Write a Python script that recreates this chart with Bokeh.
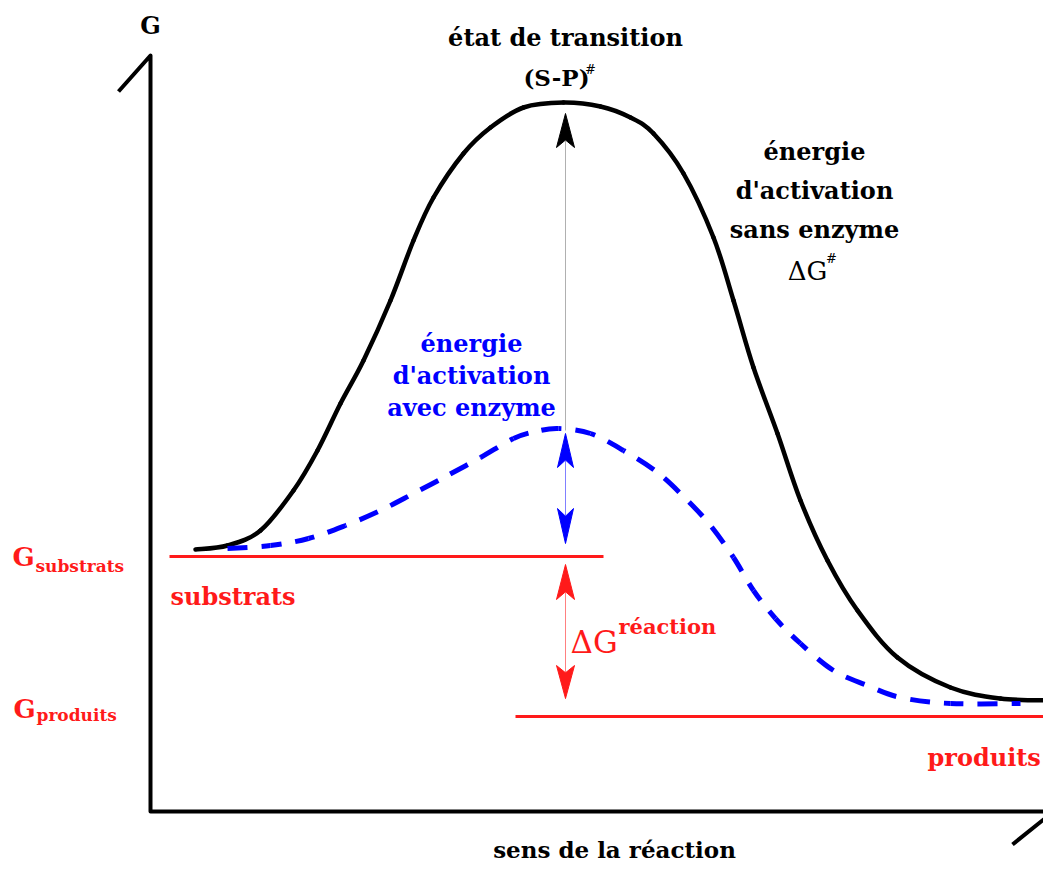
from bokeh.plotting import figure
from bokeh.models import Range1d, ColumnDataSource
from bokeh.core.properties import value
from bokeh.embed import file_html
from bokeh.resources import INLINE

# ---------------- data (reaction coordinate x, free energy G) ----------------
# curve without enzyme
sans_x = [45, 77, 110, 143, 167, 190, 213, 240, 263, 283, 313, 340, 373, 413, 450,
          480, 503, 533, 563, 583, 603, 627, 650, 677, 707, 747, 800, 850, 901]
sans_g = [262, 266, 281, 321, 361, 408, 451, 511, 571, 614, 658, 684, 704, 709, 705,
          694, 678, 638, 574, 511, 444, 378, 311, 251, 201, 154, 124, 113, 111]
# curve with enzyme
avec_x = [77, 120, 158, 195, 230, 263, 297, 330, 363, 385, 408, 440, 473, 507, 537,
          560, 583, 603, 625, 650, 683, 717, 750, 800, 870]
avec_g = [263, 266, 273, 286, 301, 318, 336, 354, 373, 380, 383, 378, 361, 339, 311,
          286, 254, 221, 193, 168, 141, 126, 114, 108, 108]

# energy levels
G_substrats = 255
G_produits = 95
G_TS = 698
G_enzyme = 381
substrats_x = [19, 453]
produits_x = [365, 901]
x_TS = 415

# axes (hook / top / origin / right end / hook)
axis_x = [-32, 0, 0, 903, 862]
axis_y = [720, 756, 0, 0, -33]

FONT = "DejaVu Serif"
RED = "#ff1a1a"
BLUE = "#0000ff"
DASH = (20, 14)
TY = 9  # text baseline correction

p = figure(width=1043, height=865, x_range=Range1d(-150, 893), y_range=Range1d(-54, 811),
           output_backend="svg", toolbar_location=None, min_border=0,
           x_axis_location=None, y_axis_location=None)
p.grid.visible = False
p.outline_line_color = None
p.background_fill_color = "white"
p.border_fill_color = "white"


def smooth_segments(xs, ys, dash_period=None):
    """Catmull-Rom knots -> cubic Bezier segments (control points derived from neighbours)."""
    n = len(xs)
    d = dict(x0=[], y0=[], x1=[], y1=[], cx0=[], cy0=[], cx1=[], cy1=[], off=[])
    total = 0.0
    for i in range(n - 1):
        a = max(i - 1, 0)
        b = min(i + 2, n - 1)
        x0, y0, x1, y1 = xs[i], ys[i], xs[i + 1], ys[i + 1]
        cx0 = x0 + (x1 - xs[a]) / 6.0
        cy0 = y0 + (y1 - ys[a]) / 6.0
        cx1 = x1 - (xs[b] - x0) / 6.0
        cy1 = y1 - (ys[b] - y0) / 6.0
        for k, v in zip(["x0", "y0", "x1", "y1", "cx0", "cy0", "cx1", "cy1"],
                        [x0, y0, x1, y1, cx0, cy0, cx1, cy1]):
            d[k].append(v)
        d["off"].append(int(round(total % dash_period)) if dash_period else 0)
        # approximate segment length
        px, py = x0, y0
        for s in range(1, 21):
            t = s / 20.0
            mt = 1 - t
            qx = mt**3 * x0 + 3 * mt**2 * t * cx0 + 3 * mt * t**2 * cx1 + t**3 * x1
            qy = mt**3 * y0 + 3 * mt**2 * t * cy0 + 3 * mt * t**2 * cy1 + t**3 * y1
            total += ((qx - px) ** 2 + (qy - py) ** 2) ** 0.5
            px, py = qx, qy
    return ColumnDataSource(d)


# axes
p.line(axis_x, axis_y, line_color="black", line_width=4, line_join="round")

# level lines
p.line(substrats_x, [G_substrats, G_substrats], line_color=RED, line_width=3)
p.line(produits_x, [G_produits, G_produits], line_color=RED, line_width=3)

# vertical guide lines
p.line([x_TS, x_TS], [G_enzyme, G_TS - 20], line_color="#b0b0b0", line_width=1)
p.line([x_TS, x_TS], [G_substrats + 15, G_enzyme - 10], line_color="#8080ff", line_width=1)
p.line([x_TS, x_TS], [G_produits + 18, G_substrats - 10], line_color="#ff8080", line_width=1)

# curves
src_sans = smooth_segments(sans_x, sans_g)
p.bezier("x0", "y0", "x1", "y1", "cx0", "cy0", "cx1", "cy1", source=src_sans,
         line_color="black", line_width=4.5, line_cap="round")
src_avec = smooth_segments(avec_x, avec_g, dash_period=sum(DASH))
p.bezier("x0", "y0", "x1", "y1", "cx0", "cy0", "cx1", "cy1", source=src_avec,
         line_color=BLUE, line_width=5, line_dash="20 14", line_dash_offset="off")


def head(x, tip, direction, length, width):
    # direction: +1 points up, -1 points down
    b = tip - direction * length
    n = tip - direction * length * 0.78
    return [x, x - width / 2, x, x + width / 2], [tip, b, n, b]


heads = [
    (head(x_TS, G_TS, 1, 34, 18), "black"),
    (head(x_TS, G_enzyme - 3, 1, 34, 16), BLUE),
    (head(x_TS, G_substrats + 13, -1, 35, 16), BLUE),
    (head(x_TS, G_substrats - 8, 1, 35, 18), RED),
    (head(x_TS, G_produits + 18, -1, 33, 18), RED),
]
for (hx, hy), c in heads:
    p.patch(hx, hy, fill_color=c, line_color=c, line_width=1)


def txt(x, y, s, size, color="black", align="center", style="bold"):
    p.text([x], [y + TY], text=[s], text_font=value(FONT), text_font_size=f"{size}px",
           text_color=color, text_align=align, text_baseline="alphabetic",
           text_font_style=style)


# axis labels
txt(0, 777, "G", 24)
txt(464, -47, "sens de la réaction", 23)

# transition state
txt(415, 765, "état de transition", 24)
txt(406, 725, "(S-P)", 23)
txt(440, 733, "#", 13, style="italic")

# activation energy without enzyme
txt(664, 651, "énergie", 24)
txt(664, 612, "d'activation", 24)
txt(664, 573, "sans enzyme", 24)
txt(657, 532, "ΔG", 26, style="normal")
txt(681, 544, "#", 13, style="italic")

# activation energy with enzyme
txt(321, 459, "énergie", 24, BLUE)
txt(321, 427, "d'activation", 24, BLUE)
txt(321, 395, "avec enzyme", 24, BLUE)

# levels
txt(20, 206, "substrats", 24, RED, align="left")
txt(777, 45, "produits", 24, RED, align="left")
txt(-138, 246, "G", 26, RED, align="left")
txt(-115, 237, "substrats", 17, RED, align="left")
txt(-137, 94, "G", 26, RED, align="left")
txt(-114, 88, "produits", 17, RED, align="left")

# reaction free energy
txt(420, 161, "ΔG", 31, RED, align="left", style="normal")
txt(468, 176, "réaction", 21, RED, align="left")

open("out.html", "w").write(file_html(p, INLINE))
